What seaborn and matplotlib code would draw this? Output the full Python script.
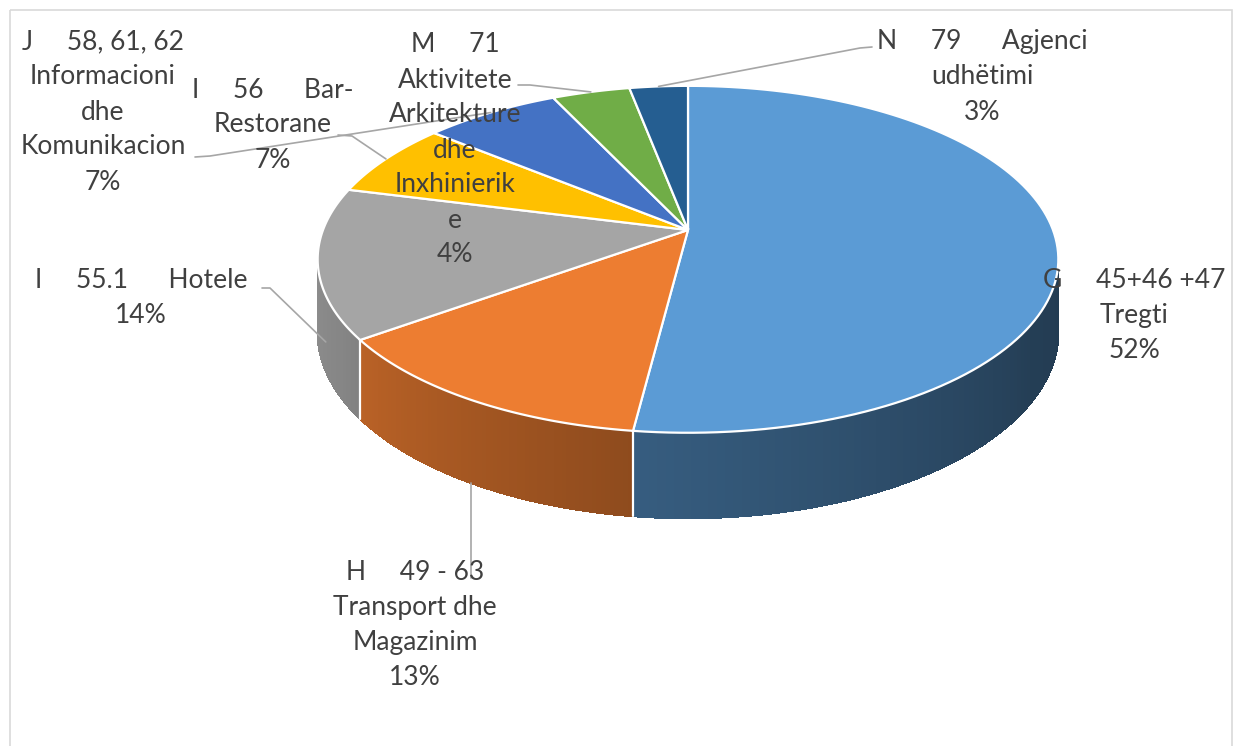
import numpy as np
import matplotlib.pyplot as plt
import seaborn as sns
from matplotlib.patches import Rectangle

# Data (shares in %, clockwise from 12 o'clock)
labels = [
    "G     45+46 +47\nTregti",
    "H     49 - 63\nTransport dhe\nMagazinim",
    "I     55.1      Hotele",
    "I     56      Bar-\nRestorane",
    "J     58, 61, 62\nInformacioni\ndhe\nKomunikacion",
    "M     71\nAktivitete\nArkitekture\ndhe\nInxhinierik\ne",
    "N     79      Agjenci\nudhëtimi",
]
shares = [52, 13, 14, 7, 7, 4, 3]
colors = ["#5B9BD5", "#ED7D31", "#A5A5A5", "#FFC000", "#4472C4", "#70AD47", "#255E91"]

sns.set_theme(style="white")
plt.rcParams['font.family'] = ['Lato', 'DejaVu Sans']
text_color = "#404040"
line_color = "#A6A6A6"

fig = plt.figure(figsize=(12.34, 7.46), dpi=100)
ax = fig.add_axes([0, 0, 1, 1])
ax.set_xlim(0, 1234)
ax.set_ylim(746, 0)
ax.axis('off')

# chart frame
ax.add_patch(Rectangle((10, 10), 1222, 800, fill=False, edgecolor="#D9D9D9", lw=1.2, zorder=0))

# simple perspective projection of the pie disk
cx, cy = 688, 230
A, B, K, D = 365, 168.5, 0.169, 71


def proj(theta, depth=0.0):
    t = np.radians(theta)
    u, w = np.cos(t), -np.sin(t)
    s = 1 - K * w
    return cx + A * u / s, cy + (B * w + depth) / s


def shade(theta):
    return np.interp(theta, [-180, -150, -97, -30, 0], [0.88, 0.81, 0.60, 0.40, 0.38])


pal = sns.color_palette(colors)
total = sum(shares)
cum = np.concatenate([[0], np.cumsum(shares)])
th1 = 90 - cum[:-1] / total * 360
th2 = 90 - cum[1:] / total * 360
mids = (th1 + th2) / 2

vis_lo = -180 + np.degrees(np.arcsin(K))
vis_hi = -np.degrees(np.arcsin(K))

# side walls with shading
for a1, a2, c in zip(th1, th2, pal):
    lo, hi = max(a2, vis_lo), min(a1, vis_hi)
    if lo >= hi:
        continue
    edges = np.linspace(lo, hi, 80)
    for a, b in zip(edges[:-1], edges[1:]):
        xt1, yt1 = proj(a)
        xt2, yt2 = proj(b)
        xb1, yb1 = proj(a, D)
        xb2, yb2 = proj(b, D)
        fc = np.clip(np.array(c) * shade((a + b) / 2), 0, 1)
        ax.fill([xt1, xt2, xb2, xb1], [yt1, yt2, yb2, yb1], facecolor=fc, edgecolor=fc,
                lw=0.8, antialiased=False, zorder=2)
    # smooth the lower rim
    arc = np.linspace(lo, hi, 120)
    xb, yb = proj(arc, D)
    for i in range(len(arc) - 1):
        fc = np.clip(np.array(c) * shade(arc[i]), 0, 1)
        ax.plot(xb[i:i + 2], yb[i:i + 2], color=fc, lw=0.8, solid_capstyle='butt', zorder=2.2)

# white seams on the wall
for a in th2:
    if vis_lo < a < vis_hi:
        xt, yt = proj(a)
        xb, yb = proj(a, D)
        ax.plot([xt, xb], [yt, yb], color='white', lw=1.6, zorder=2.5)

# top surfaces
for a1, a2, c in zip(th1, th2, pal):
    arc = np.linspace(a1, a2, 120)
    xs, ys = proj(arc)
    ax.fill(np.r_[cx, xs], np.r_[cy, ys], facecolor=c, edgecolor='white', lw=1.6, zorder=3)

# labels
label_pos = [(1134, 316), (415, 625), (141, 298), (273, 125), (103, 112), (455, 150), (982, 77)]
for lab, s, (x, y) in zip(labels, shares, label_pos):
    ax.text(x, y, f"{lab}\n{s}%", ha='center', va='center', multialignment='center',
            fontsize=19, color=text_color, linespacing=1.5, zorder=5)

# leader lines
lw = 1.2
# H (orange) - vertical to wall bottom
xa, ya = proj(mids[1], D)
ax.plot([xa, xa], [578, ya], color=line_color, lw=lw, zorder=4)
# I 55.1 Hotele
xa, ya = proj(mids[2], D)
ax.plot([262, 270, xa + 8], [288, 288, ya + 6], color=line_color, lw=lw, zorder=4)
# I 56 Bar-Restorane
xa, ya = proj(mids[3])
ax.plot([338, 352, xa], [135, 136, ya], color=line_color, lw=lw, zorder=4)
# J Komunikacion
xa, ya = proj(mids[4])
ax.plot([195, 210, xa], [157, 156, ya], color=line_color, lw=lw, zorder=4)
# M Aktivitete
xa, ya = proj(mids[5])
ax.plot([518, 530, xa], [85, 85, ya], color=line_color, lw=lw, zorder=4)
# N Agjenci
xa, ya = proj(mids[6])
ax.plot([872, 860, xa], [47, 48, ya], color=line_color, lw=lw, zorder=4)

plt.savefig('out.png', dpi=100)
